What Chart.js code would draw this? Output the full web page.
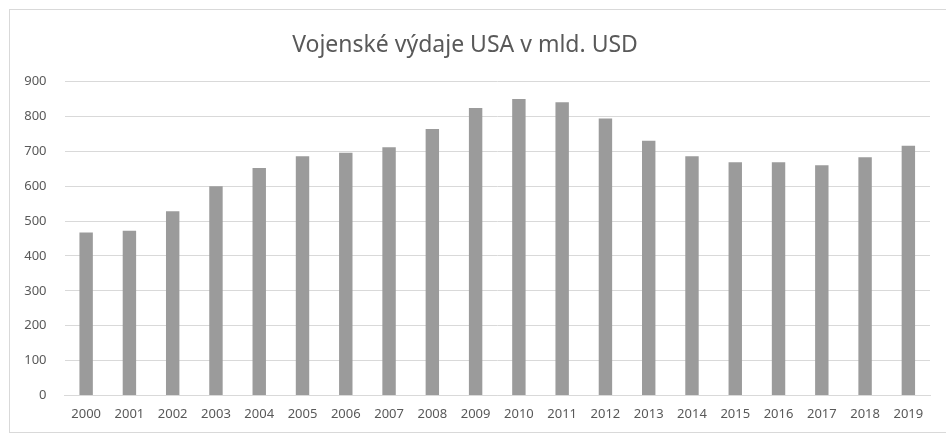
<!DOCTYPE html>
<html>
<head>
<meta charset="utf-8">
<script src="https://cdn.jsdelivr.net/npm/chart.js@4"></script>
<style>
  html, body { margin: 0; padding: 0; background: #fff; }
  #ramecek { position: absolute; left: 9px; top: 9px; width: 945px; height: 424px; border: 1px solid #d9d9d9; box-sizing: border-box; }
  #obal { position: absolute; left: 0; top: 0; width: 946px; height: 436px; }
</style>
</head>
<body>
<div id="ramecek"></div>
<div id="obal"><canvas id="graf"></canvas></div>
<script>
// Vojenské výdaje USA (mld. USD)
const roky = ['2000', '2001', '2002', '2003', '2004', '2005', '2006', '2007', '2008', '2009',
              '2010', '2011', '2012', '2013', '2014', '2015', '2016', '2017', '2018', '2019'];
const vydaje = [467, 472, 528, 600, 652, 686, 696, 712, 764, 824,
                850, 841, 794, 730, 686, 669, 669, 660, 683, 716];
const osaY = [0, 100, 200, 300, 400, 500, 600, 700, 800, 900];

const sedaText = '#595959';
const pismo = "'Noto Sans', sans-serif";

document.addEventListener('DOMContentLoaded', function() {
    const ctx = document.getElementById('graf');
    new Chart(ctx, {
        type: 'bar',
        data: {
            labels: roky,
            datasets: [{
                label: 'Výdaje',
                data: vydaje,
                backgroundColor: '#9b9b9b',
                borderWidth: 0,
                categoryPercentage: 1,
                barPercentage: 0.31
            }]
        },
        options: {
            responsive: true,
            maintainAspectRatio: false,
            animation: false,
            layout: { padding: { left: 0, right: 16, top: 0, bottom: 11 } },
            scales: {
                y: {
                    min: 0,
                    max: 900,
                    afterBuildTicks: function(scale) {
                        scale.ticks = osaY.map(v => ({ value: v }));
                    },
                    afterFit: function(scale) { scale.width = 64.5; },
                    grid: { color: '#d9d9d9', drawTicks: false },
                    border: { display: false },
                    ticks: { color: sedaText, padding: 18, font: { family: pismo, size: 13 } }
                },
                x: {
                    grid: { display: false },
                    border: { color: '#d9d9d9' },
                    ticks: { color: sedaText, padding: 3, maxRotation: 0, autoSkip: false, font: { family: pismo, size: 13 } }
                }
            },
            plugins: {
                legend: { display: false },
                tooltip: { enabled: false },
                title: {
                    display: true,
                    text: 'Vojenské výdaje USA v mld. USD',
                    color: sedaText,
                    font: { family: pismo, size: 23, weight: 'normal' },
                    padding: { top: 32, bottom: 22 }
                }
            }
        }
    });
});
</script>
</body>
</html>
